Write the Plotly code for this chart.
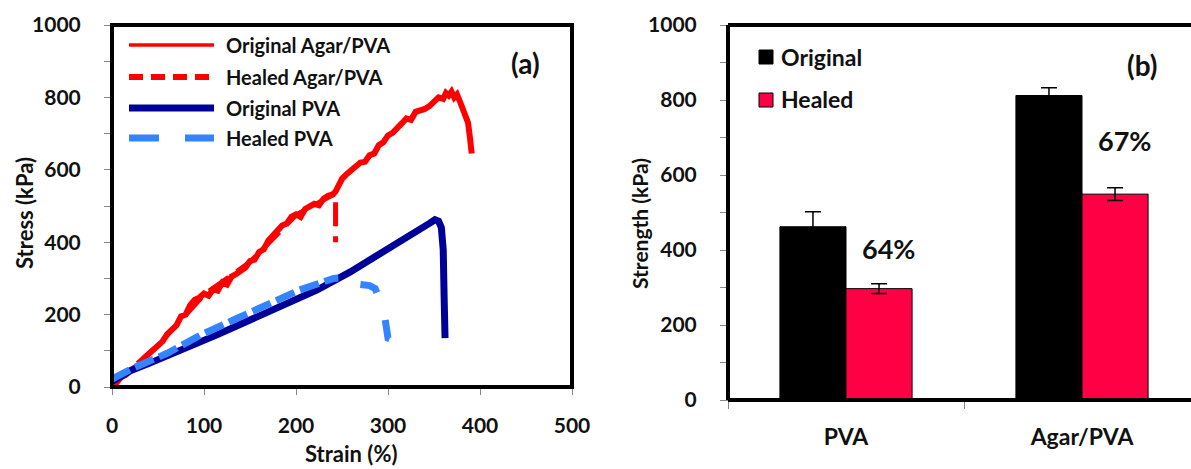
import plotly.graph_objects as go

# ---------------- data: panel (a) stress-strain ----------------
orig_agar_strain = [0, 5, 10, 15, 20, 25, 30, 35, 40, 45, 50, 55, 60, 65, 70, 75, 80, 85, 90, 95,
                    100, 105, 110, 115, 120, 125, 130, 135, 140, 145, 150, 155, 160, 165, 170, 175,
                    180, 185, 190, 195, 200, 205, 210, 215, 220, 225, 230, 235, 240, 243, 246, 250,
                    255, 260, 265, 270, 275, 280, 285, 290, 295, 300, 305, 310, 315, 320, 325, 330,
                    335, 340, 345, 350, 355, 360, 363, 366, 369, 372, 375, 378, 381, 384, 387, 389, 391]
orig_agar_stress = [2, 12, 28, 33, 46, 55, 62, 80, 92, 101, 118, 126, 146, 158, 170, 195, 200, 226, 241, 247,
                    258, 252, 270, 266, 289, 283, 305, 312, 322, 330, 348, 352, 373, 380, 405, 420,
                    432, 446, 452, 470, 477, 470, 492, 498, 506, 502, 520, 528, 532, 540, 556, 575,
                    588, 598, 606, 620, 622, 640, 645, 668, 676, 695, 702, 718, 728, 742, 738, 760,
                    762, 768, 776, 786, 800, 796, 812, 805, 816, 800, 808, 790, 770, 752, 730, 690, 645]

healed_agar_strain = [0, 50, 100, 150, 200, 243, 243]
healed_agar_stress = [3, 115, 255, 345, 475, 535, 400]

orig_pva_strain = [0, 10, 20, 41, 60, 77, 100, 114, 150, 186, 223, 259, 295, 331, 345, 351, 355, 358, 360, 361, 362]
orig_pva_stress = [15, 32, 45, 66, 85, 102, 128, 144, 185, 226, 268, 318, 373, 425, 452, 462, 458, 440, 380, 250, 135]

healed_pva_strain = [0, 23, 60, 96, 132, 168, 204, 241, 246, None, 270, 280, 286, 289, None, 297, 298, 300, 305]
healed_pva_stress = [22, 52, 93, 143, 185, 226, 268, 300, 301, None, 283, 280, 272, 254, None, 185, 150, 135, 130]

# ---------------- data: panel (b) strength ----------------
categories = ["PVA", "Agar/PVA"]
original_strength = [462, 812]
original_err = [40, 21]
healed_strength = [297, 549]
healed_err = [13, 17]
recovery_labels = ["64%", "67%"]
recovery_pos_y = [403, 693]

W, H = 1191, 469
FONT = "Lato"
TXT = "#111111"
RED = "#ff0000"
NAVY = "#000099"
LBLUE = "#3385ff"
BAR_RED = "#ff0044"


def px(x):
    return x / W


def py(y):
    return 1 - y / H


fig = go.Figure()

# panel (a)
fig.add_trace(go.Scatter(x=healed_agar_strain, y=healed_agar_stress, mode="lines",
                         line=dict(color=RED, width=5, dash="24px,10px"), xaxis="x", yaxis="y",
                         showlegend=False))
fig.add_trace(go.Scatter(x=orig_agar_strain, y=orig_agar_stress, mode="lines",
                         line=dict(color=RED, width=6), xaxis="x", yaxis="y", showlegend=False))
fig.add_trace(go.Scatter(x=orig_pva_strain, y=orig_pva_stress, mode="lines",
                         line=dict(color=NAVY, width=7), xaxis="x", yaxis="y", showlegend=False))
fig.add_trace(go.Scatter(x=healed_pva_strain, y=healed_pva_stress, mode="lines",
                         line=dict(color=LBLUE, width=7, dash="20px,6px"), xaxis="x", yaxis="y",
                         showlegend=False, connectgaps=False))

# panel (b)
fig.add_trace(go.Bar(x=categories, y=original_strength, name="Original",
                     marker=dict(color="black", line=dict(color="black", width=1)),
                     error_y=dict(type="data", array=original_err, color="black", thickness=1.5, width=8),
                     xaxis="x2", yaxis="y2", showlegend=False))
fig.add_trace(go.Bar(x=categories, y=healed_strength, name="Healed",
                     marker=dict(color=BAR_RED, line=dict(color="black", width=1)),
                     error_y=dict(type="data", array=healed_err, color="black", thickness=1.5, width=8),
                     xaxis="x2", yaxis="y2", showlegend=False))

tickfont = dict(family=FONT, size=21, color=TXT, weight="bold")
common_y = dict(range=[0, 1000], dtick=200, tick0=0, ticks="outside", ticklen=7, tickcolor="#888888",
                tickwidth=1, showline=True, linecolor="#888888", linewidth=1, showgrid=False,
                zeroline=False, tickfont=tickfont, ticklabelstandoff=19, automargin=False,
                minor=dict(dtick=100, ticks="outside", ticklen=7, tickcolor="#888888", tickwidth=1))

fig.update_layout(
    width=W, height=H, margin=dict(l=0, r=0, t=0, b=0, autoexpand=False),
    paper_bgcolor="white", plot_bgcolor="white",
    barmode="group", bargap=0.44, bargroupgap=0,
    xaxis=dict(domain=[px(112), px(572)], range=[0, 500], dtick=100, ticks="outside", ticklen=7,
               tickcolor="#888888", showline=True, linecolor="#888888", linewidth=1, showgrid=False,
               zeroline=False, tickfont=tickfont, ticklabelstandoff=13, anchor="y", automargin=False),
    yaxis=dict(domain=[py(387), py(25)], anchor="x", **common_y),
    xaxis2=dict(domain=[px(728), 1.0], range=[-0.5, -0.5 + (W - 728) / 236], type="category",
                tickson="boundaries", ticks="outside", ticklen=8, tickcolor="#888888",
                showline=True, linecolor="#888888", linewidth=1, showgrid=False, zeroline=False,
                tickfont=dict(family=FONT, size=23, color=TXT, weight="bold"), ticklabelstandoff=16,
                anchor="y2", automargin=False),
    yaxis2=dict(domain=[py(400), py(25)], anchor="x2", **common_y),
)

shapes = []
# frame (a)
shapes.append(dict(type="rect", xref="x domain", yref="y domain", x0=0, x1=1, y0=0, y1=1,
                   line=dict(color="black", width=4), layer="above"))
# frame (b): left, top, bottom (right edge cut off)
for (x0, y0, x1, y1) in [(0, 0, 0, 1), (0, 1, 1.05, 1), (0, 0, 1.05, 0)]:
    shapes.append(dict(type="line", xref="x2 domain", yref="y2 domain", x0=x0, y0=y0, x1=x1, y1=y1,
                       line=dict(color="black", width=4), layer="above"))

annotations = []


def text(x, y, s, size, angle=0, xanchor="center"):
    annotations.append(dict(xref="paper", yref="paper", x=px(x), y=py(y), text=s, showarrow=False,
                            xanchor=xanchor, yanchor="middle", textangle=angle,
                            font=dict(family=FONT, size=size, color=TXT, weight="bold")))


# legend (a)
leg_rows = [(45, RED, 3.5, "solid", "Original Agar/PVA"),
            (77, RED, 6, "14px,8px", "Healed Agar/PVA"),
            (108, NAVY, 7, "solid", "Original PVA"),
            (138, LBLUE, 7, "30px,26px", "Healed PVA")]
for yy, col, wd, ds, name in leg_rows:
    shapes.append(dict(type="line", xref="paper", yref="paper", x0=px(129), x1=px(214), y0=py(yy), y1=py(yy),
                       line=dict(color=col, width=wd, dash=ds)))
    text(224, yy, name, 20, xanchor="left")

# legend (b)
shapes.append(dict(type="rect", xref="paper", yref="paper", x0=px(759), x1=px(773), y0=py(64), y1=py(50),
                   fillcolor="black", line=dict(color="black", width=1)))
shapes.append(dict(type="rect", xref="paper", yref="paper", x0=px(759), x1=px(773), y0=py(107), y1=py(93),
                   fillcolor=BAR_RED, line=dict(color="black", width=1)))
text(779, 57, "Original", 23, xanchor="left")
text(779, 99, "Healed", 23, xanchor="left")

# panel labels
text(525, 63, "(a)", 28)
text(1142, 65, "(b)", 28)

# axis titles
text(24, 213, "Stress (kPa)", 22, angle=-90)
text(351, 453, "Strain (%)", 22)
text(639, 224, "Strength (kPa)", 21, angle=-90)

# recovery percentages
for i, (lab, yv) in enumerate(zip(recovery_labels, recovery_pos_y)):
    annotations.append(dict(xref="x2", yref="y2", x=i + 0.18, y=yv, text=lab, showarrow=False,
                            xanchor="center", yanchor="middle",
                            font=dict(family=FONT, size=27, color=TXT, weight="bold")))

fig.update_layout(shapes=shapes, annotations=annotations)
fig.write_html("out.html")
